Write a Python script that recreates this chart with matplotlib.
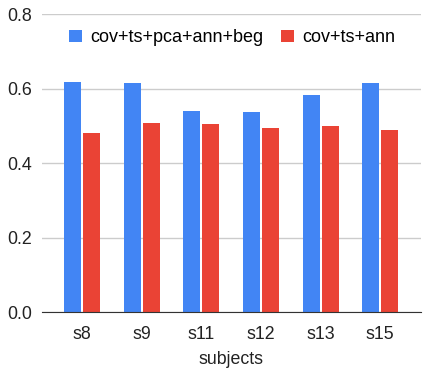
import matplotlib
matplotlib.use("Agg")
import matplotlib.pyplot as plt
import numpy as np

categories = ["s8", "s9", "s11", "s12", "s13", "s15"]
series_names = ["cov+ts+pca+ann+beg", "cov+ts+ann"]
blue_vals = [0.618, 0.615, 0.540, 0.538, 0.583, 0.615]
red_vals = [0.481, 0.508, 0.505, 0.495, 0.500, 0.489]
yticks = [0.0, 0.2, 0.4, 0.6, 0.8]
ytick_labels = ["0.0", "0.2", "0.4", "0.6", "0.8"]
colors = ["#4285F4", "#EA4335"]

plt.rcParams['font.family'] = ['Liberation Sans', 'DejaVu Sans']

fig = plt.figure(figsize=(4.34, 3.71), dpi=100)
ax = fig.add_axes([0.096, 0.158, 0.873, 0.803])

x = np.arange(len(categories))
w = 0.285
off = 0.16
ax.bar(x - off, blue_vals, width=w, color=colors[0], label=series_names[0], zorder=3)
ax.bar(x + off, red_vals, width=w, color=colors[1], label=series_names[1], zorder=3)

ax.set_xlim(-0.676, 5.676)
ax.set_ylim(0, 0.8)
ax.set_yticks(yticks)
ax.set_yticklabels(ytick_labels)
ax.set_xticks(x)
ax.set_xticklabels(categories)
ax.tick_params(axis='both', length=0, labelsize=12.8, colors='#222222')
ax.tick_params(axis='y', pad=7)
ax.tick_params(axis='x', pad=9.5)
ax.grid(axis='y', color='#cccccc', linewidth=1, zorder=0)
for s in ['top', 'right', 'left']:
    ax.spines[s].set_visible(False)
ax.spines['bottom'].set_color('#333333')
ax.spines['bottom'].set_zorder(4)
ax.set_xlabel("subjects", fontsize=12.8, color='#222222', labelpad=6)

leg = ax.legend(loc='center', bbox_to_anchor=(0.503, 0.922), ncol=2, frameon=False,
                fontsize=13, handlelength=0.7, handleheight=0.7, handletextpad=0.5,
                columnspacing=0.95)

fig.savefig("out.png", dpi=100)
